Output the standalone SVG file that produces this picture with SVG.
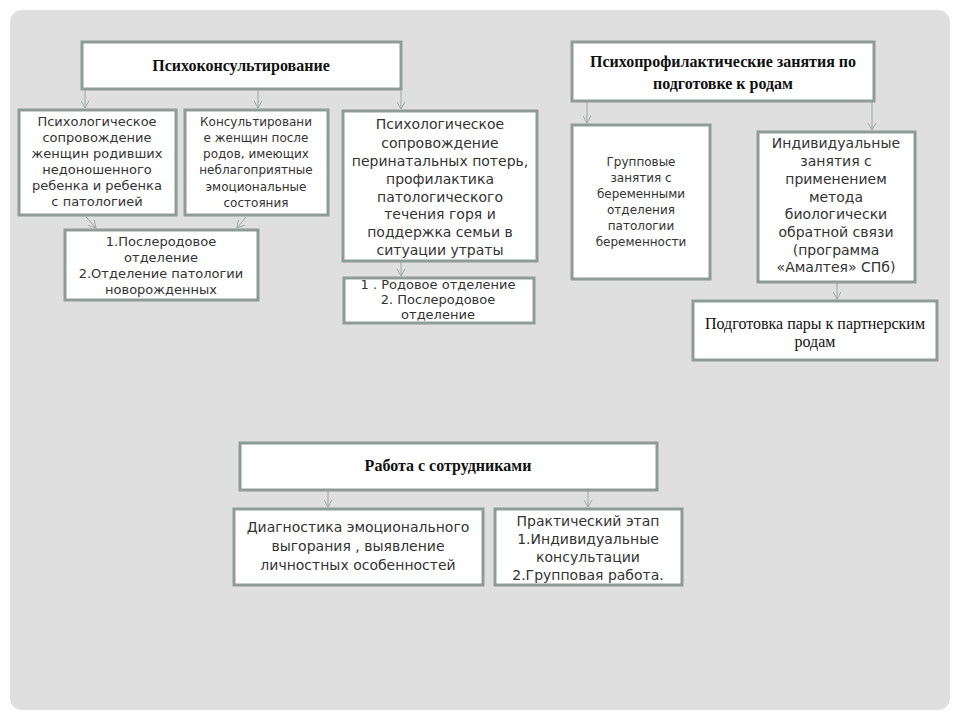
<svg xmlns="http://www.w3.org/2000/svg" width="960" height="720" viewBox="0 0 960 720">
<style>
.box{fill:#fff;stroke:#8f9b96;stroke-width:3}
.t{font-family:"DejaVu Sans","Liberation Sans",sans-serif;font-size:13px;fill:#333;text-anchor:middle}
.s{font-size:12px}
.m{font-size:13px}
.b{font-size:14px}
.h{font-family:"Liberation Serif","Times New Roman",serif;font-size:16px;font-weight:bold;fill:#111;text-anchor:middle}
.p{font-family:"Liberation Serif","Times New Roman",serif;font-size:16px;fill:#111;text-anchor:middle}
.c{stroke:#9ea8a3;stroke-width:1;fill:none;marker-end:url(#ah)}
</style>
<defs>
<marker id="ah" viewBox="0 0 10 10" refX="9" refY="5" markerWidth="9" markerHeight="9" markerUnits="userSpaceOnUse" orient="auto">
<path d="M1,0.5 L9,5 L1,9.5" fill="none" stroke="#9ea8a3" stroke-width="1.1"/>
</marker>
</defs>
<rect x="0" y="0" width="960" height="720" fill="#fff"/>
<rect x="10" y="10" width="940" height="700" rx="12" fill="#dfdfdf"/>

<g id="connectors">
<line class="c" x1="85" y1="90" x2="85" y2="108"/>
<line class="c" x1="258" y1="90" x2="258" y2="108"/>
<line class="c" x1="401" y1="90" x2="401" y2="109"/>
<line class="c" x1="86" y1="217" x2="96" y2="228"/>
<line class="c" x1="246" y1="217" x2="237" y2="228"/>
<line class="c" x1="401" y1="262" x2="401" y2="276"/>
<line class="c" x1="587" y1="102" x2="587" y2="123"/>
<line class="c" x1="872" y1="102" x2="872" y2="130"/>
<line class="c" x1="837" y1="283" x2="837" y2="299"/>
<line class="c" x1="328" y1="491" x2="328" y2="507"/>
<line class="c" x1="588" y1="491" x2="588" y2="507"/>
</g>

<g id="psychokons">
<rect class="box" x="82" y="42" width="319" height="47"/>
<text class="h" x="241" y="71">Психоконсультирование</text>
</g>

<g id="psychoprof">
<rect class="box" x="572" y="42" width="302" height="59"/>
<text class="h" x="723" y="67">Психопрофилактические занятия по</text>
<text class="h" x="723" y="89">подготовке к родам</text>
</g>

<g id="node-a">
<rect class="box" x="19" y="110" width="157" height="105"/>
<text class="t" x="97" y="126">Психологическое</text>
<text class="t" x="97" y="142">сопровождение</text>
<text class="t" x="97" y="158">женщин  родивших</text>
<text class="t" x="97" y="174">недоношенного</text>
<text class="t" x="97" y="190">ребенка и ребенка</text>
<text class="t" x="97" y="206">с патологией</text>
</g>

<g id="node-b">
<rect class="box" x="185" y="110" width="143" height="105"/>
<text class="t s" x="256" y="126">Консультировани</text>
<text class="t s" x="256" y="142">е женщин  после</text>
<text class="t s" x="256" y="158">родов, имеющих</text>
<text class="t s" x="256" y="174">неблагоприятные</text>
<text class="t s" x="256" y="191">эмоциональные</text>
<text class="t s" x="256" y="207">состояния</text>
</g>

<g id="node-ab2">
<rect class="box" x="65" y="230" width="193" height="70"/>
<text class="t" x="161" y="246">1.Послеродовое</text>
<text class="t" x="161" y="262">отделение</text>
<text class="t" x="161" y="278">2.Отделение  патологии</text>
<text class="t" x="161" y="294">новорожденных</text>
</g>

<g id="node-c">
<rect class="box" x="343" y="111" width="194" height="150"/>
<text class="t b" x="440" y="129">Психологическое</text>
<text class="t b" x="440" y="148">сопровождение</text>
<text class="t b" x="440" y="166">перинатальных потерь,</text>
<text class="t b" x="440" y="184">профилактика</text>
<text class="t b" x="440" y="202">патологического</text>
<text class="t b" x="440" y="219">течения горя и</text>
<text class="t b" x="440" y="237">поддержка семьи в</text>
<text class="t b" x="440" y="255">ситуации утраты</text>
</g>

<g id="node-c2">
<rect class="box" x="344" y="278" width="190" height="45"/>
<text class="t m" x="438" y="289">1 . Родовое отделение</text>
<text class="t m" x="438" y="304">2. Послеродовое</text>
<text class="t m" x="438" y="319">отделение</text>
</g>

<g id="node-group">
<rect class="box" x="572" y="125" width="138" height="154"/>
<text class="t s" x="641" y="166">Групповые</text>
<text class="t s" x="641" y="182">занятия с</text>
<text class="t s" x="641" y="198">беременными</text>
<text class="t s" x="641" y="214">отделения</text>
<text class="t s" x="641" y="230">патологии</text>
<text class="t s" x="641" y="246">беременности</text>
</g>

<g id="node-indiv">
<rect class="box" x="758" y="132" width="157" height="150"/>
<text class="t b" x="836" y="148">Индивидуальные</text>
<text class="t b" x="836" y="166">занятия с</text>
<text class="t b" x="836" y="184">применением</text>
<text class="t b" x="836" y="202">метода</text>
<text class="t b" x="836" y="219">биологически</text>
<text class="t b" x="836" y="237">обратной связи</text>
<text class="t b" x="836" y="255">(программа</text>
<text class="t b" x="836" y="272">«Амалтея» СПб)</text>
</g>

<g id="node-pair">
<rect class="box" x="693" y="301" width="244" height="59"/>
<text class="p" x="815" y="329">Подготовка пары к партнерским</text>
<text class="p" x="815" y="347">родам</text>
</g>

<g id="staff">
<rect class="box" x="240" y="443" width="417" height="47"/>
<text class="h" x="448" y="471">Работа с  сотрудниками</text>
</g>

<g id="node-diag">
<rect class="box" x="234" y="509" width="249" height="76"/>
<text class="t b" x="358" y="532">Диагностика эмоционального</text>
<text class="t b" x="358" y="551">выгорания , выявление</text>
<text class="t b" x="358" y="570">личностных особенностей</text>
</g>

<g id="node-pract">
<rect class="box" x="495" y="509" width="187" height="76"/>
<text class="t b" x="588" y="526">Практический этап</text>
<text class="t b" x="588" y="544">1.Индивидуальные</text>
<text class="t b" x="588" y="562">консультации</text>
<text class="t b" x="588" y="580">2.Групповая работа.</text>
</g>
</svg>
